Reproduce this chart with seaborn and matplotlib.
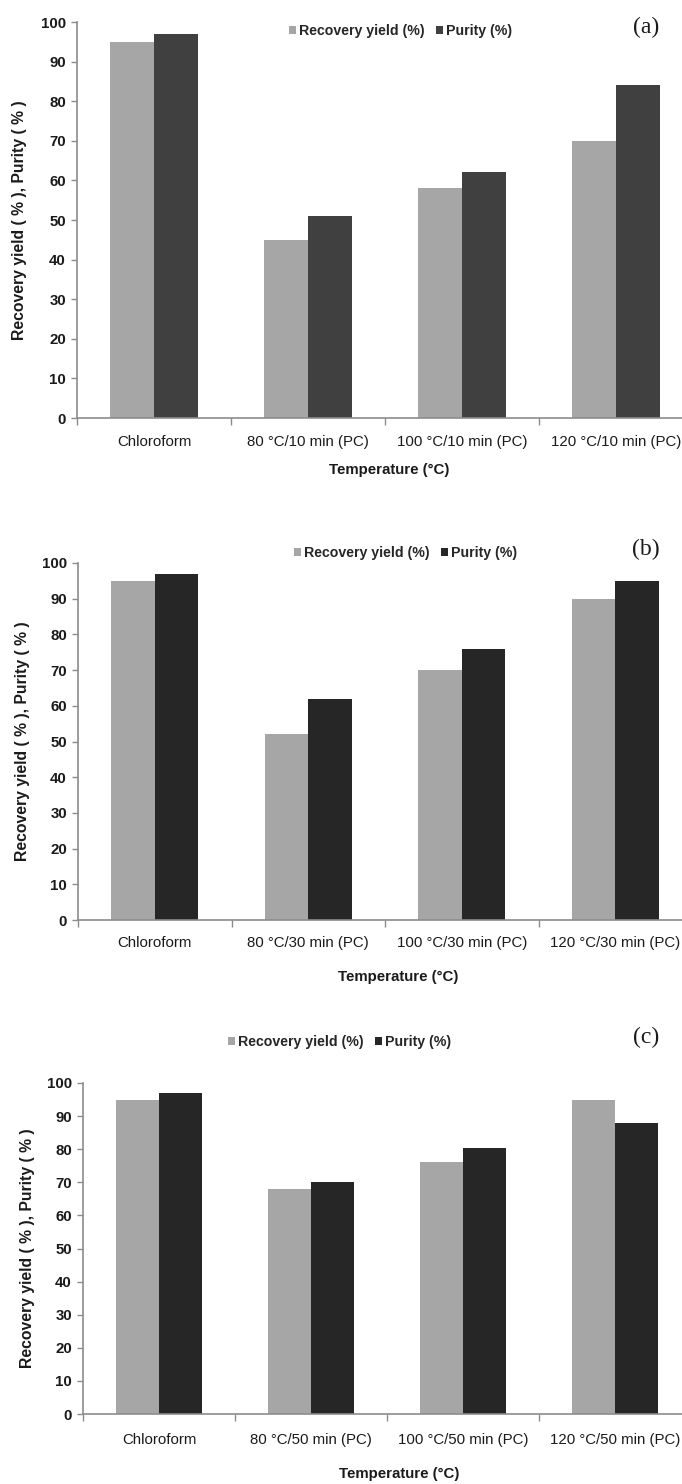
import matplotlib
matplotlib.use("Agg")
import matplotlib.pyplot as plt
import seaborn as sns
import pandas as pd
from matplotlib.ticker import FixedLocator

# ---- data -------------------------------------------------------------
series_names = ["Recovery yield (%)", "Purity (%)"]

conditions_a = ["Chloroform", "80 °C/10 min (PC)", "100 °C/10 min (PC)", "120 °C/10 min (PC)"]
recovery_a = [95, 45, 58, 70]
purity_a = [97, 51, 62, 84]

conditions_b = ["Chloroform", "80 °C/30 min (PC)", "100 °C/30 min (PC)", "120 °C/30 min (PC)"]
recovery_b = [95, 52, 70, 90]
purity_b = [97, 62, 76, 95]

conditions_c = ["Chloroform", "80 °C/50 min (PC)", "100 °C/50 min (PC)", "120 °C/50 min (PC)"]
recovery_c = [95, 68, 76, 95]
purity_c = [97, 70, 80.5, 88]

y_ticks = [0, 10, 20, 30, 40, 50, 60, 70, 80, 90, 100]

# ---- style -------------------------------------------------------------
sns.set_style("white")
SANS = ["Liberation Sans", "DejaVu Sans"]
SERIF = ["Liberation Serif", "DejaVu Serif"]
plt.rcParams["font.family"] = SANS

LIGHT = "#a6a6a6"
AXIS_GREY = "#8c8c8c"
TEXT = "#1a1a1a"

W, H = 682, 1484
DPI = 100
fig = plt.figure(figsize=(W / DPI, H / DPI), dpi=DPI)
PX = 72.0 / DPI  # points per pixel


def make_panel(left, top, bottom, cat_w, conds, rec, pur, dark, tag,
               leg_xy, tag_xy, ylab_x, xlab_xy, ticklab_y):
    width_px = cat_w * 4
    ax = fig.add_axes([left / W, 1 - bottom / H, width_px / W, (bottom - top) / H])
    df = pd.DataFrame({
        "cond": conds * 2,
        "value": rec + pur,
        "series": [series_names[0]] * 4 + [series_names[1]] * 4,
    })
    sns.barplot(data=df, x="cond", y="value", hue="series", order=conds,
                hue_order=series_names, palette=[LIGHT, dark], saturation=1,
                width=0.57, linewidth=0, ax=ax, legend=True)
    ax.set_xlim(-0.5, 3.5)
    ax.set_ylim(0, 100)
    ax.set_yticks(y_ticks)
    ax.set_yticklabels([str(t) for t in y_ticks], fontsize=10.8,
                       fontweight="bold", color=TEXT)
    ax.tick_params(axis="y", which="major", direction="out", length=4,
                   width=1, color=AXIS_GREY, pad=4, left=True)

    # category labels centred, tick marks on category boundaries
    ax.set_xticks(range(4))
    ax.set_xticklabels(conds, fontsize=10.8, color=TEXT)
    ax.tick_params(axis="x", which="major", length=0,
                   pad=(ticklab_y - bottom - 7) * PX)
    ax.xaxis.set_minor_locator(FixedLocator([-0.5, 0.5, 1.5, 2.5, 3.5]))
    ax.tick_params(axis="x", which="minor", direction="out", length=5,
                   width=1, color=AXIS_GREY, bottom=True)

    for s in ["top", "right"]:
        ax.spines[s].set_visible(False)
    for s in ["left", "bottom"]:
        ax.spines[s].set_color(AXIS_GREY)
        ax.spines[s].set_linewidth(1.2)

    ax.set_ylabel("Recovery yield ( % ), Purity ( % )", fontsize=11.3,
                  fontweight="bold", color=TEXT)
    ax.yaxis.set_label_coords((ylab_x - left) / width_px, 0.5)
    ax.yaxis.label.set_va("center")
    ax.set_xlabel("Temperature (°C)", fontsize=10.8, fontweight="bold",
                  color=TEXT)
    ax.xaxis.set_label_coords((xlab_xy[0] - left) / width_px,
                              -(xlab_xy[1] - bottom) / (bottom - top))
    ax.xaxis.label.set_va("center")

    handles, labels = ax.get_legend_handles_labels()
    ax.legend(handles, labels, loc="center left",
              bbox_to_anchor=(leg_xy[0] / W, 1 - leg_xy[1] / H),
              bbox_transform=fig.transFigure, ncol=2, frameon=False,
              handlelength=0.5, handleheight=0.5, handletextpad=0.2,
              columnspacing=0.8, borderaxespad=0, borderpad=0,
              prop={"family": SANS, "weight": "bold", "size": 10.2})

    fig.text(tag_xy[0] / W, 1 - tag_xy[1] / H, tag, family=SERIF,
             fontsize=17, ha="center", va="center", color=TEXT)
    return ax


make_panel(77, 22, 418, 154, conditions_a, recovery_a, purity_a, "#404040",
           "(a)", (289, 31), (646, 27), 20, (389, 470), 442)
make_panel(78, 563, 920, 153.5, conditions_b, recovery_b, purity_b, "#262626",
           "(b)", (294, 553), (646, 549), 23, (398, 977), 943)
make_panel(83, 1083, 1414, 152, conditions_c, recovery_c, purity_c, "#262626",
           "(c)", (228, 1042), (646, 1037), 28, (399, 1474), 1440)

fig.savefig("out.png", dpi=DPI, facecolor="white")
